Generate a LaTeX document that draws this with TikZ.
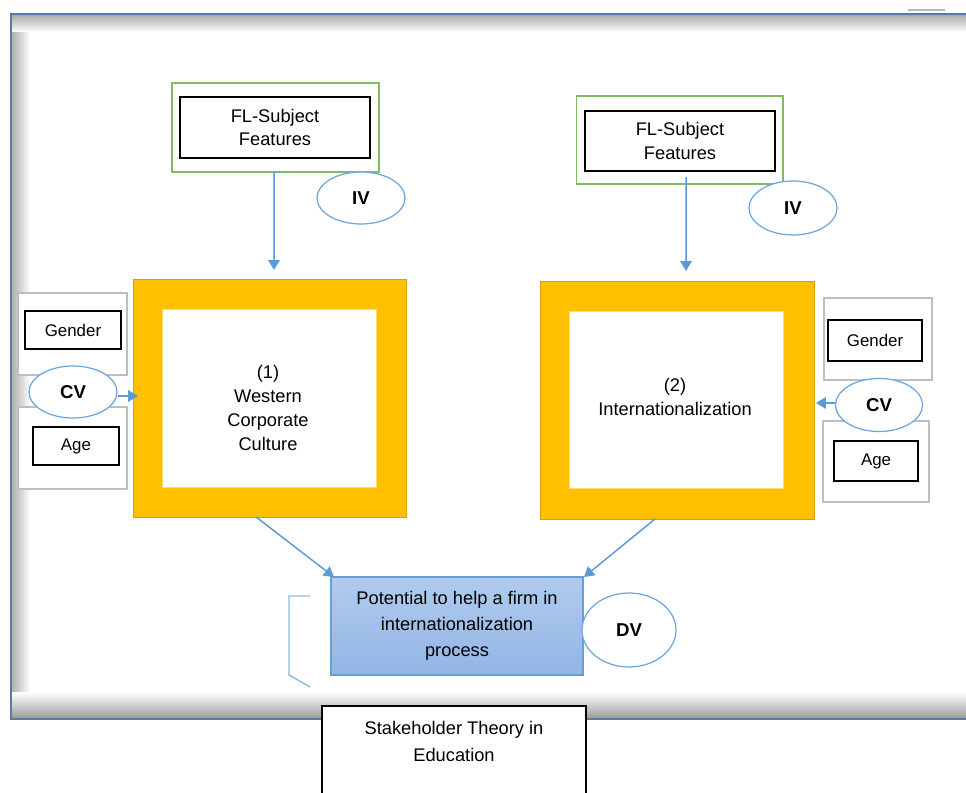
\documentclass[tikz,border=0pt]{standalone}
\usepackage{fontspec}
\setmainfont{Liberation Sans}
\usepackage{xcolor}
\usetikzlibrary{shapes.geometric,arrows.meta,positioning}

\definecolor{framecol}{RGB}{88,124,168}
\definecolor{linkblue}{RGB}{91,155,213}
\definecolor{ellblue}{RGB}{110,165,222}
\definecolor{boxgreen}{RGB}{128,188,100}
\definecolor{boxgray}{RGB}{190,190,190}
\definecolor{gold}{RGB}{255,192,0}
\definecolor{goldedge}{RGB}{214,160,20}
\definecolor{dvtop}{RGB}{176,203,238}
\definecolor{dvbot}{RGB}{146,181,228}
\definecolor{dvedge}{RGB}{104,158,216}

\tikzset{
	txt/.style={font=\fontsize{10.4}{13.6}\selectfont, align=center},
	smalltxt/.style={font=\fontsize{9.6}{12}\selectfont},
	greenbox/.style={draw=boxgreen, line width=0.6pt, fill=white, outer sep=0pt},
	graybox/.style={draw=boxgray, line width=0.7pt, fill=white, outer sep=0pt},
	blackbox/.style={draw=black, line width=0.9pt, fill=white, outer sep=0pt},
	goldbox/.style={draw=goldedge, line width=0.5pt, fill=gold, outer sep=0pt},
	holebox/.style={draw=gold!55!white, line width=0.5pt, fill=white, outer sep=0pt},
	varell/.style={ellipse, draw=ellblue, line width=0.7pt, fill=white, inner sep=0pt,
		font=\fontsize{10.6}{12}\selectfont\bfseries},
	link/.style={draw=linkblue, line width=0.85pt, -{Triangle[length=2mm,width=2.3mm]}}
}

\begin{document}
\begin{tikzpicture}[x=0.02cm,y=-0.02cm]
	\useasboundingbox (0,0) rectangle (966,793);
	\clip (0,0) rectangle (966,793);

	% page frame with its shadow
	\fill[white] (11,14) rectangle (975,719);
	\shade[left color=gray!65, right color=white] (11,14) rectangle (30,719);
	\shade[top color=gray!70, bottom color=white] (11,14) rectangle (975,32);
	\shade[top color=white, bottom color=gray!80] (11,692) rectangle (975,719);
	\draw[framecol, line width=1.5pt] (975,14) -- (11,14) -- (11,719) -- (975,719);
	\draw[gray!55, line width=1pt] (908,10) -- (945,10);

	% (1) western corporate culture
	\node[greenbox, minimum width=4.14cm, minimum height=1.78cm] (flLout) at (275.5,127.5) {};
	\node[blackbox, txt, minimum width=3.8cm, minimum height=1.22cm] (flLin) at (275,127.5) {FL-Subject\\Features};
	\node[varell, minimum width=1.76cm, minimum height=1.04cm] (ivL) at (361,198) {IV};
	\node[goldbox, minimum width=5.46cm, minimum height=4.76cm] (cultOut) at (269.5,398) {};
	\node[holebox, minimum width=4.28cm, minimum height=3.56cm] (cultIn) at (269,398) {};
	\node[txt] (cultTxt) at (268,408) {(1)\\Western\\Corporate\\Culture};
	\node[graybox, minimum width=2.18cm, minimum height=1.64cm] (genLout) at (72.5,334) {};
	\node[blackbox, smalltxt, minimum width=1.92cm, minimum height=0.76cm] (genLin) at (73,330) {Gender};
	\node[graybox, minimum width=2.18cm, minimum height=1.64cm] (ageLout) at (72.5,448) {};
	\node[blackbox, smalltxt, minimum width=1.72cm, minimum height=0.76cm] (ageLin) at (76,446) {Age};
	\node[varell, minimum width=1.76cm, minimum height=1.04cm] (cvL) at (73,392) {CV};

	% (2) internationalization
	\node[greenbox, minimum width=4.14cm, minimum height=1.76cm] (flRout) at (679.5,140) {};
	\node[blackbox, txt, minimum width=3.8cm, minimum height=1.2cm] (flRin) at (680,141) {FL-Subject\\Features};
	\node[varell, minimum width=1.76cm, minimum height=1.08cm] (ivR) at (793,208) {IV};
	\node[goldbox, minimum width=5.48cm, minimum height=4.76cm] (intOut) at (677,400) {};
	\node[holebox, minimum width=4.28cm, minimum height=3.54cm] (intIn) at (676,399.5) {};
	\node[txt] (intTxt) at (675,397) {(2)\\Internationalization};
	\node[graybox, minimum width=2.16cm, minimum height=1.64cm] (genRout) at (878,339) {};
	\node[blackbox, smalltxt, minimum width=1.88cm, minimum height=0.82cm] (genRin) at (875,340.5) {Gender};
	\node[graybox, minimum width=2.12cm, minimum height=1.62cm] (ageRout) at (876,461.5) {};
	\node[blackbox, smalltxt, minimum width=1.68cm, minimum height=0.8cm] (ageRin) at (876,461) {Age};
	\node[varell, minimum width=1.74cm, minimum height=1.06cm] (cvR) at (879,405) {CV};

	% dependent variable
	\node[draw=dvedge, line width=0.7pt, top color=dvtop, bottom color=dvbot, outer sep=0pt,
		font=\fontsize{10.4}{14.7}\selectfont, align=center,
		minimum width=5.04cm, minimum height=1.96cm] (dvBox) at (457,626)
		{Potential to help a firm in\\internationalization\\process};
	\node[varell, minimum width=1.88cm, minimum height=1.48cm] (dvEll) at (629,630) {DV};
	\draw[linkblue!70!white, line width=0.8pt] (310,596) -- (289,596) -- (289,675) -- (310,687);

	% theory
	\node[draw=black, line width=0.9pt, fill=white, anchor=north, outer sep=0pt,
		minimum width=5.28cm, minimum height=3cm] (stakeBox) at (454,706) {};
	\node[font=\fontsize{10.4}{15.3}\selectfont, align=center] (stakeTxt) at (454,741.5)
		{Stakeholder Theory in\\Education};

	% links
	\draw[link] ([xshift=-0.3mm]flLout.south) -- ([xshift=0.9mm,yshift=1.8mm]cultOut.north);
	\draw[link] ([xshift=1.2mm,yshift=-1.2mm]flRin.south) -- ([xshift=1.8mm,yshift=2mm]intOut.north);
	\draw[link] ([yshift=-0.08cm]cvL.east) -- ([yshift=-0.08cm,xshift=1mm]cvL.east -| cultOut.west);
	\draw[link] ([yshift=0.04cm]cvR.west) -- ([yshift=0.04cm,xshift=0.4mm]cvR.west -| intOut.east);
	\draw[link] ([xshift=-2.7mm]cultOut.south) -- ([xshift=0.6mm]dvBox.north west);
	\draw[link] ([xshift=-4.4mm]intOut.south) -- ([xshift=0.2mm]dvBox.north east);
\end{tikzpicture}
\end{document}
